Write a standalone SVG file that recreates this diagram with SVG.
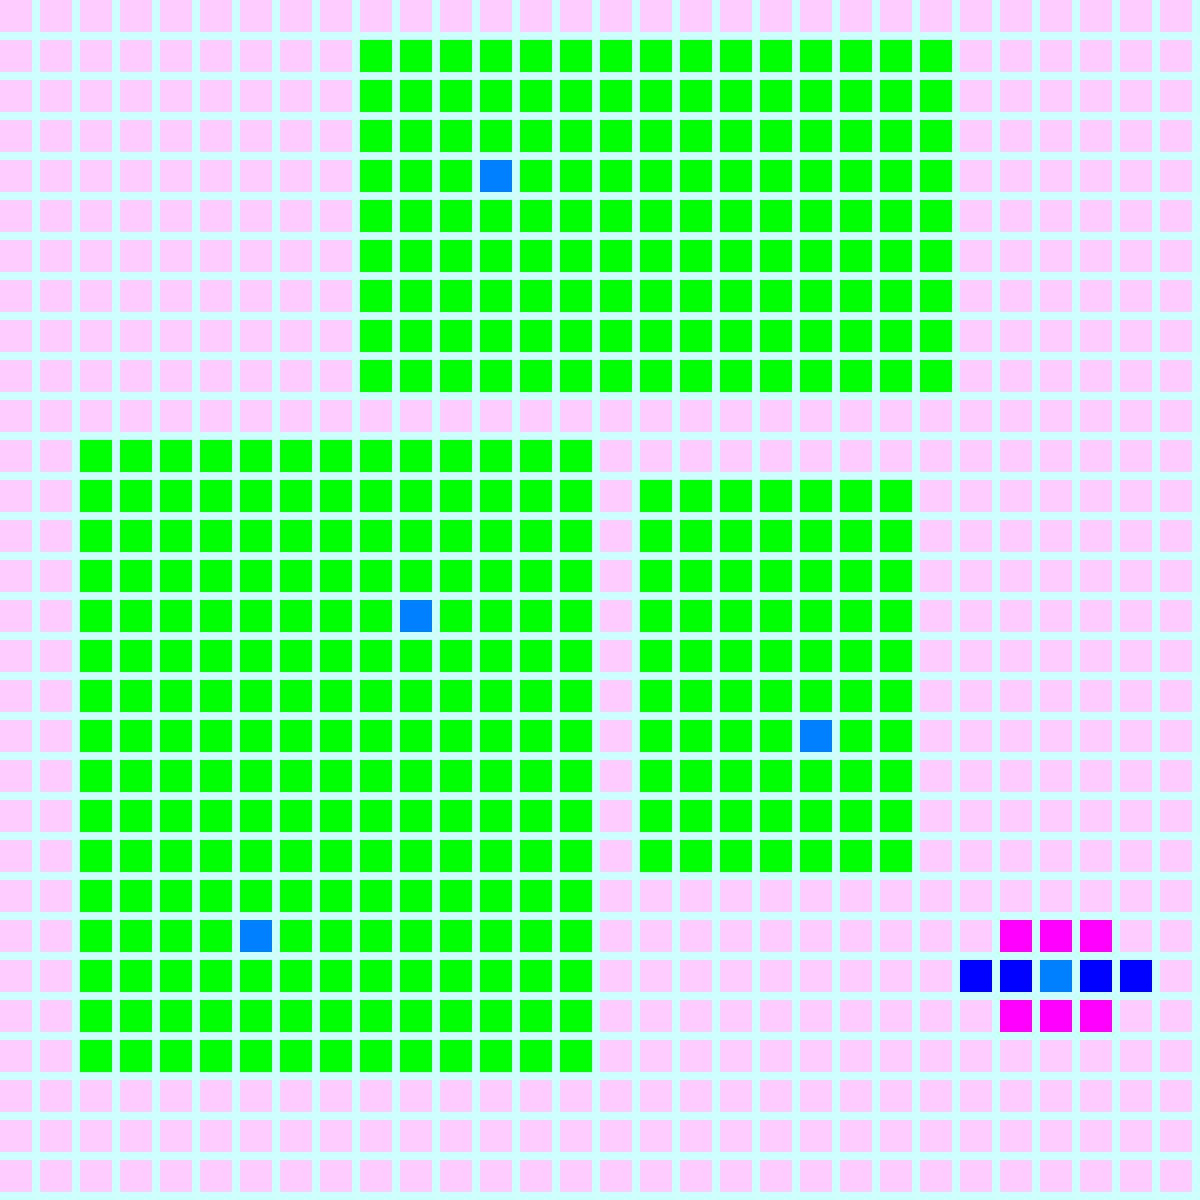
<svg xmlns="http://www.w3.org/2000/svg" width="1200" height="1200" viewBox="0 0 1200 1200">
  <defs>
    <pattern id="pink" x="0" y="0" width="40" height="40" patternUnits="userSpaceOnUse">
      <rect x="0" y="0" width="32" height="32" fill="#ffccff"/>
    </pattern>
    <pattern id="green" x="0" y="0" width="40" height="40" patternUnits="userSpaceOnUse">
      <rect x="0" y="0" width="32" height="32" fill="#00ff00"/>
    </pattern>
  </defs>
  <style>
    .hi { fill: #0080ff; }
    .db { fill: #0000ff; }
    .mg { fill: #ff00ff; }
  </style>
  <rect x="0" y="0" width="1200" height="1200" fill="#ccffff"/>
  <rect x="0" y="0" width="1200" height="1200" fill="url(#pink)"/>
  <g id="block-top">
    <rect x="360" y="40" width="600" height="360" fill="url(#green)"/>
    <rect class="hi" x="480" y="160" width="32" height="32"/>
  </g>
  <g id="block-left">
    <rect x="80" y="440" width="520" height="640" fill="url(#green)"/>
    <rect class="hi" x="400" y="600" width="32" height="32"/>
    <rect class="hi" x="240" y="920" width="32" height="32"/>
  </g>
  <g id="block-right">
    <rect x="640" y="480" width="280" height="400" fill="url(#green)"/>
    <rect class="hi" x="800" y="720" width="32" height="32"/>
  </g>
  <g id="cross">
    <rect class="mg" x="1000" y="920" width="32" height="32"/>
    <rect class="mg" x="1040" y="920" width="32" height="32"/>
    <rect class="mg" x="1080" y="920" width="32" height="32"/>
    <rect class="db" x="960" y="960" width="32" height="32"/>
    <rect class="db" x="1000" y="960" width="32" height="32"/>
    <rect class="hi" x="1040" y="960" width="32" height="32"/>
    <rect class="db" x="1080" y="960" width="32" height="32"/>
    <rect class="db" x="1120" y="960" width="32" height="32"/>
    <rect class="mg" x="1000" y="1000" width="32" height="32"/>
    <rect class="mg" x="1040" y="1000" width="32" height="32"/>
    <rect class="mg" x="1080" y="1000" width="32" height="32"/>
  </g>
</svg>
